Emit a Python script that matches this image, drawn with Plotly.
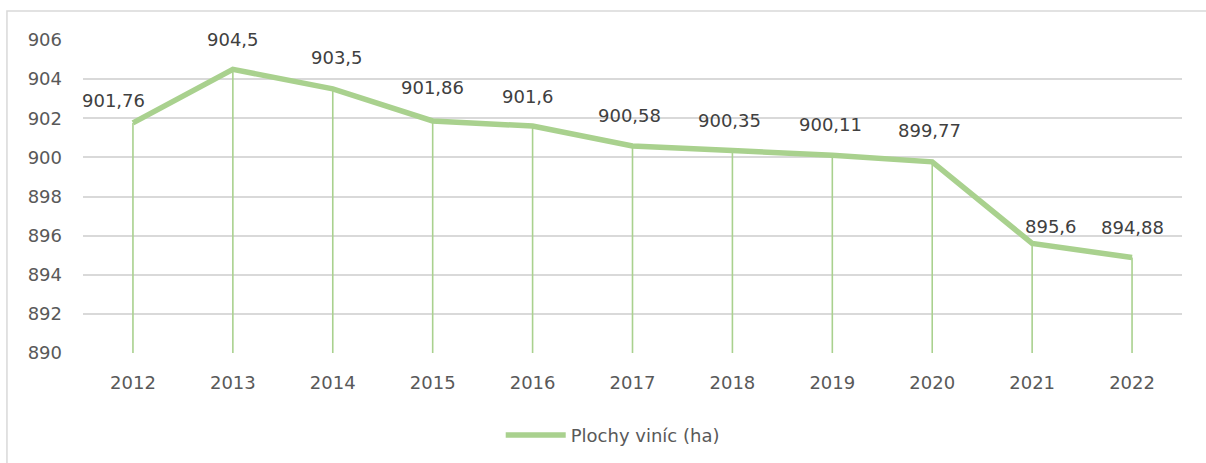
import plotly.graph_objects as go

# Vineyard area per year (ha)
years = [2012, 2013, 2014, 2015, 2016, 2017, 2018, 2019, 2020, 2021, 2022]
area_ha = [901.76, 904.5, 903.5, 901.86, 901.6, 900.58, 900.35, 900.11, 899.77, 895.6, 894.88]
series_name = "Plochy viníc (ha)"

y_min, y_max, y_step = 890, 906, 2

# label nudges (px) so neighbouring labels do not collide with the line
label_dx = [-19, 0, 4, 0, -5, -3, -3, -2, -3, 19, 0]
label_dy = [22, 30, 31, 33, 30, 31, 30, 31, 31, 17, 30]

GREEN = "#A9D18E"
TEXT = "#404040"
AXIS_TEXT = "#595959"
FONT = "DejaVu Sans, sans-serif"


def fmt(v):
    s = f"{v:.2f}".rstrip("0").rstrip(".")
    return s.replace(".", ",")


fig = go.Figure()

# drop lines from every point to the axis floor
fig.add_trace(go.Scatter(
    x=years, y=area_ha, mode="none", showlegend=False, hoverinfo="skip",
    error_y=dict(type="data", symmetric=False, array=[0] * len(area_ha),
                 arrayminus=[v - y_min for v in area_ha],
                 color=GREEN, thickness=1.6, width=0),
))

fig.add_trace(go.Scatter(
    x=years, y=area_ha, mode="lines", name=series_name,
    line=dict(color=GREEN, width=5.5),
))

for yr, v, dx, dy in zip(years, area_ha, label_dx, label_dy):
    fig.add_annotation(x=yr, y=v, text=fmt(v), showarrow=False,
                       xshift=dx, yshift=dy,
                       font=dict(family=FONT, size=18, color=TEXT))

# outer chart frame
fig.add_shape(type="rect", xref="paper", yref="paper",
              x0=-0.0692, x1=1.05, y0=-0.5, y1=1.0927,
              line=dict(color="#D9D9D9", width=1.5), layer="below")

fig.update_layout(
    width=1206, height=463,
    margin=dict(l=83, r=24, t=40, b=110, autoexpand=False),
    paper_bgcolor="white", plot_bgcolor="white",
    font=dict(family=FONT, size=18, color=AXIS_TEXT),
    showlegend=True,
    legend=dict(orientation="h", x=0.482, xanchor="center",
                yref="container", y=0.06, yanchor="middle",
                font=dict(family=FONT, size=18, color=AXIS_TEXT),
                itemwidth=60),
    xaxis=dict(range=[years[0] - 0.5, years[-1] + 0.5], tickmode="array",
               tickvals=years, ticktext=[str(y) for y in years],
               showgrid=False, zeroline=False, showline=False,
               ticks="", ticklabelstandoff=17,
               tickfont=dict(size=18, color=AXIS_TEXT)),
    yaxis=dict(range=[y_min, y_max], dtick=y_step, tick0=y_min,
               showgrid=True, gridcolor="#D9D9D9", gridwidth=1.5,
               zeroline=False, showline=False, ticks="",
               ticklabelstandoff=20,
               tickfont=dict(size=18, color=AXIS_TEXT)),
)

fig.write_html("out.html")
